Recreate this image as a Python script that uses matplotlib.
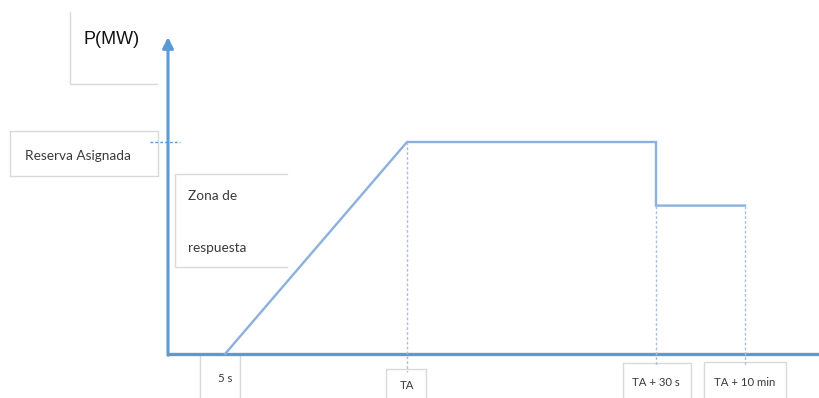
import matplotlib
matplotlib.use("Agg")
import matplotlib.pyplot as plt

# Response profile: time marks (schematic units) and delivered power (% of reserve)
tick_t = [5.7, 23.9, 48.8, 57.7]
tick_labels = ["5 s", "TA", "TA + 30 s", "TA + 10 min"]
curve_t = [5.7, 23.9, 48.8, 48.8, 57.7]
curve_p = [0, 100, 100, 70, 70]
reserve_level = 100

AXIS_BLUE = "#5b9bd5"
CURVE_BLUE = "#8cb0dc"
GUIDE = "#a9c1df"
BOX = "#d9d9d9"
TEXT = "#3a3a3a"
W, H = 820, 398

plt.rcParams["font.family"] = ["Lato", "DejaVu Sans"]

fig = plt.figure(figsize=(W / 100, H / 100), dpi=100)

# chart axes: origin at pixel (168, 354); 10 px per time unit, 2.12 px per power unit
sx, sy, x0, y0 = 10.0, 2.12, 168, 354
ax = fig.add_axes([0, 0, 1, 1])
ax.set_xlim((0 - x0) / sx, (W - x0) / sx)
ax.set_ylim((y0 - H) / sy, y0 / sy)
ax.axis("off")

# annotation layer in pixel units
lay = fig.add_axes([0, 0, 1, 1], zorder=0)
lay.set_xlim(0, W)
lay.set_ylim(H, 0)
lay.axis("off")
ax.set_zorder(1)
ax.patch.set_alpha(0)

# axes lines
xmax = (W - x0) / sx
ax.plot([0, xmax], [0, 0], color=AXIS_BLUE, lw=2.4, solid_capstyle="butt")
ax.annotate("", xy=(0, 149.5), xytext=(0, -0.6),
            arrowprops=dict(arrowstyle="-|>", color=AXIS_BLUE, lw=2.2,
                            mutation_scale=16, shrinkA=0, shrinkB=0))

# response curve
ax.plot(curve_t, curve_p, color=CURVE_BLUE, lw=1.7, solid_joinstyle="miter")

# guides down to the time labels
guide_bottom = [-8.5, -5.2, -5.2]
for t, p, b in zip(tick_t[1:], [curve_p[1], curve_p[3], curve_p[4]], guide_bottom):
    ax.plot([t, t], [p, b], color=GUIDE, lw=1.0, ls=(0, (2, 1.5)))

# reserve level mark on the power axis
ax.plot([-1.8, 1.2], [reserve_level, reserve_level], color=AXIS_BLUE, lw=1.0,
        ls=(0, (2, 1.5)))

def seg(xs, ys):
    lay.plot(xs, ys, color=BOX, lw=1.0)

# P(MW) label
seg([70, 70, 157], [12, 84, 84])
lay.text(112, 40, "P(MW)", fontsize=13, ha="center", va="center",
         family=["Liberation Sans", "DejaVu Sans"], color="#111111")

# Reserva Asignada label
seg([10, 158, 158, 10, 10], [131, 131, 176, 176, 131])
lay.text(25, 156, "Reserva Asignada", fontsize=9.8, ha="left", va="center",
         color=TEXT)

# Zona de respuesta label
seg([287, 175, 175, 287], [174, 174, 267, 267])
lay.text(188, 196, "Zona de", fontsize=9.8, ha="left", va="center", color=TEXT)
lay.text(188, 248, "respuesta", fontsize=9.8, ha="left", va="center", color=TEXT)

# time labels
boxes = [(200, 240, 356), (386, 426, 369), (623, 691, 363), (704, 786, 362)]
for t, lab, (l, r, top) in zip(tick_t, tick_labels, boxes):
    if top <= 357:
        seg([l, l], [top, H])
        seg([r, r], [top, H])
    else:
        seg([l, l, r, r], [H, top, top, H])
    cx = x0 + t * sx
    cy = (top + H) / 2 + 2
    lay.text(cx, cy, lab, fontsize=8.2, ha="center", va="center", color=TEXT)

fig.savefig("out.png", dpi=100)
